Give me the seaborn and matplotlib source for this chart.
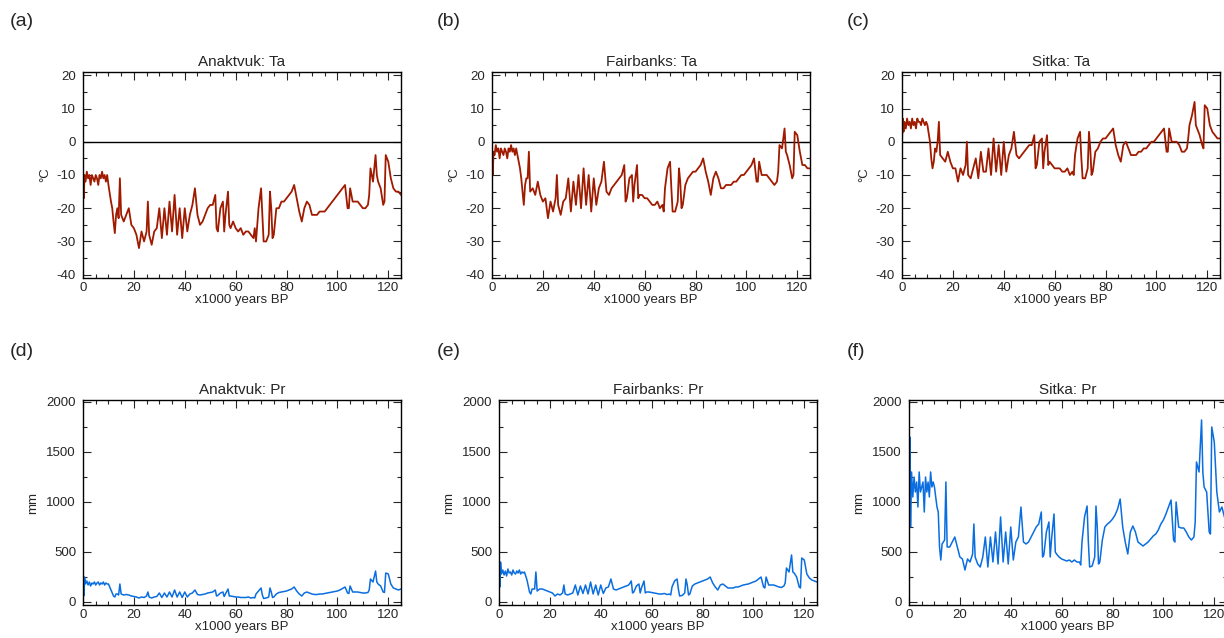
"""
Ta and Pr reconstructions for three Alaskan sites, 0-125 kyr BP.
Two rows of three panels drawn with seaborn line plots.
"""

import numpy as np
import pandas as pd
import matplotlib
matplotlib.use("Agg")
import matplotlib.pyplot as plt
from matplotlib.ticker import MultipleLocator
import seaborn as sns

# time axis, x1000 years BP (shared by every series)
years = [0, 0.3, 0.6, 1, 1.5, 2, 2.5, 3, 3.5, 4,
         4.5, 5, 5.5, 6, 6.5, 7, 7.5, 8, 8.5, 9,
         9.5, 10, 11, 11.5, 12, 12.5, 13, 13.5, 14, 14.5,
         15, 16, 17, 18, 19, 20, 21, 22, 23, 24,
         25, 25.5, 26, 27, 28, 29, 30, 31, 32, 33,
         34, 35, 36, 37, 38, 39, 40, 41, 42, 43,
         44, 45, 46, 47, 48, 49, 50, 51, 52, 52.5,
         53, 54, 55, 55.5, 56, 57, 57.5, 58, 59, 60,
         61, 62, 63, 64, 65, 66, 67, 67.5, 68, 69,
         70, 70.5, 71, 72, 73, 73.5, 74, 74.5, 75, 76,
         77, 78, 79, 80, 81, 82, 83, 84, 85, 86,
         87, 88, 89, 90, 91, 92, 93, 94, 95, 96,
         97, 98, 99, 100, 101, 102, 103, 104, 104.5, 105,
         106, 107, 108, 109, 110, 111, 112, 112.5, 113, 114,
         115, 115.5, 116, 117, 118, 118.5, 119, 120, 121, 122,
         123, 124, 125]

# air temperature, degC
ta_anaktvuk = [-8, -17, -10, -12, -9, -11, -10, -13, -10, -11,
               -12, -10, -11, -13, -10, -11, -9, -11, -10, -12,
               -10, -13, -18, -20, -24, -27.5, -22, -20, -23, -11,
               -22, -24, -22, -20, -25, -26, -28, -32, -27, -30,
               -27, -18, -28, -31, -27, -26, -20, -29, -20, -28,
               -18, -27, -16, -28, -20, -29, -20, -27, -22, -19,
               -14, -22, -25, -24, -22, -20, -19, -19, -16, -26,
               -27, -20, -18, -27, -22, -15, -25, -26, -24, -26,
               -27, -26, -28, -27, -27, -28, -29, -26, -30, -20,
               -14, -22, -30, -30, -28, -15, -20, -29, -28, -20,
               -20, -18, -18, -17, -16, -15, -13, -17, -21, -24,
               -20, -18, -19, -22, -22, -22, -21, -21, -21, -20,
               -19, -18, -17, -16, -15, -14, -13, -20, -20, -14,
               -18, -18, -18, -19, -20, -20, -19, -16, -8, -12,
               -4, -10, -12, -14, -19, -18, -4, -6, -11, -14,
               -15, -15, -16]

ta_fairbanks = [-1, -10, -3, -4, -1, -3, -2, -5, -2, -3,
                -4, -2, -3, -5, -2, -3, -1, -3, -2, -4,
                -2, -4, -8, -11, -15, -19, -13, -11, -11, -3,
                -15, -14, -16, -12, -16, -18, -17, -23, -18, -21,
                -17, -10, -19, -22, -18, -17, -11, -21, -12, -19,
                -10, -20, -8, -19, -10, -21, -11, -19, -14, -12,
                -6, -15, -16, -14, -13, -12, -11, -10, -7, -18,
                -17, -11, -10, -18, -13, -7, -17, -16, -16, -17,
                -17, -18, -19, -19, -18, -20, -19, -21, -14, -8,
                -6, -14, -21, -21, -18, -8, -12, -20, -19, -13,
                -11, -10, -9, -9, -8, -7, -5, -9, -12, -16,
                -11, -9, -11, -14, -14, -13, -13, -13, -12, -12,
                -11, -10, -10, -9, -8, -7, -5, -12, -12, -6,
                -10, -10, -10, -11, -12, -13, -12, -9, -1, -2,
                4, -3, -4, -7, -11, -10, 3, 2, -3, -7,
                -7, -8, -8]

ta_sitka = [0, 7, 3, 6, 4, 7, 5, 6, 4, 7,
            5, 6, 4, 7, 6, 6, 5, 7, 6, 5,
            6, 5, 0, -5, -8, -6, -2, -3, 0, 6,
            -4, -5, -6, -3, -6, -8, -8, -12, -8, -10,
            -7, 0, -10, -11, -8, -5, -11, -3, -9, -9,
            -2, -10, 1, -9, -1, -10, 0, -9, -4, -2,
            3, -4, -5, -4, -3, -2, -1, -1, 2, -8,
            -7, 0, 1, -8, -3, 2, -7, -6, -7, -8,
            -8, -8, -9, -9, -8, -10, -9, -10, -4, 1,
            3, -5, -11, -11, -8, 3, -2, -10, -9, -3,
            -2, 0, 1, 1, 2, 3, 4, -1, -4, -6,
            -1, 0, -2, -4, -4, -4, -3, -3, -2, -2,
            -1, 0, 0, 1, 2, 3, 4, -3, -3, 4,
            0, 0, 0, -1, -3, -3, -2, 1, 5, 8,
            12, 5, 4, 2, -1, -2, 11, 10, 5, 3,
            2, 1, 1]

# precipitation, mm
pr_anaktvuk = [350, 60, 250, 180, 210, 170, 200, 160, 190, 180,
               200, 170, 190, 200, 170, 190, 180, 200, 170, 190,
               180, 180, 120, 90, 60, 50, 80, 80, 70, 180,
               80, 70, 75, 70, 60, 55, 50, 40, 50, 45,
               60, 100, 50, 40, 50, 55, 90, 45, 90, 50,
               100, 50, 120, 50, 100, 45, 100, 50, 80, 90,
               120, 75, 70, 75, 80, 90, 95, 100, 120, 60,
               65, 90, 100, 55, 80, 130, 60, 60, 55, 50,
               50, 45, 45, 45, 50, 40, 45, 40, 80, 110,
               140, 70, 35, 40, 50, 140, 100, 45, 50, 80,
               95, 100, 105, 110, 120, 130, 150, 110, 80, 60,
               90, 100, 90, 80, 75, 75, 80, 80, 85, 90,
               95, 100, 105, 110, 120, 135, 150, 90, 85, 160,
               100, 100, 100, 95, 90, 90, 95, 120, 230, 200,
               310, 200, 180, 160, 100, 95, 290, 280, 180, 140,
               130, 120, 130]

pr_fairbanks = [450, 150, 400, 280, 320, 270, 310, 260, 330, 290,
                300, 270, 320, 290, 280, 310, 290, 320, 280, 300,
                290, 300, 220, 160, 100, 80, 130, 130, 130, 300,
                110, 130, 130, 120, 110, 100, 90, 60, 80, 70,
                90, 170, 80, 70, 80, 90, 170, 70, 160, 85,
                170, 80, 200, 80, 170, 70, 170, 85, 140, 150,
                230, 130, 120, 130, 140, 150, 160, 170, 210, 90,
                100, 160, 180, 90, 140, 210, 90, 100, 100, 95,
                90, 85, 80, 80, 85, 75, 80, 70, 150, 210,
                230, 130, 60, 65, 90, 230, 170, 70, 80, 160,
                180, 190, 200, 210, 220, 230, 250, 190, 150, 120,
                170, 180, 160, 140, 140, 140, 150, 150, 160, 170,
                175, 180, 190, 200, 210, 230, 250, 150, 140, 250,
                170, 170, 170, 160, 150, 145, 160, 190, 340, 300,
                470, 300, 290, 250, 150, 140, 440, 420, 280, 240,
                220, 210, 200]

pr_sitka = [600, 1650, 750, 1300, 1050, 1250, 1100, 1200, 950, 1300,
            1100, 1150, 1200, 900, 1250, 1100, 1200, 1050, 1300, 1150,
            1200, 1150, 950, 900, 550, 420, 580, 600, 620, 1200,
            550, 550, 600, 650, 550, 450, 430, 320, 430, 400,
            480, 780, 450, 380, 350, 450, 650, 350, 650, 400,
            700, 380, 850, 400, 700, 380, 750, 420, 600, 650,
            950, 600, 580, 600, 650, 700, 750, 780, 900, 450,
            470, 700, 800, 450, 620, 880, 500, 480, 450, 430,
            420, 410, 420, 400, 420, 400, 400, 370, 600, 850,
            960, 600, 350, 360, 450, 960, 750, 380, 400, 620,
            750, 780, 800, 830, 870, 930, 1030, 750, 600, 480,
            700, 760, 700, 600, 580, 560, 580, 600, 630, 660,
            680, 720, 780, 820, 880, 950, 1020, 620, 600, 1000,
            750, 740, 740, 700, 650, 620, 650, 800, 1400, 1300,
            1820, 1300, 1150, 1100, 700, 680, 1750, 1600, 1100, 900,
            950, 850, 900]

sites = ["Anaktvuk", "Fairbanks", "Sitka"]
panel_tags = ["(a)", "(b)", "(c)", "(d)", "(e)", "(f)"]

TA_COLOR = "#a01a00"
PR_COLOR = "#0a6ee0"

sns.set_style("ticks")
plt.rcParams["font.family"] = ["Liberation Sans", "DejaVu Sans"]
plt.rcParams["axes.unicode_minus"] = False

fig = plt.figure(figsize=(12.24, 6.38), dpi=100)

# axes boxes in figure fractions (left, bottom, width, height)
W = 318 / 1224
top_boxes = [(83 / 1224, 1 - 278 / 638, W, 206 / 638),
             (492 / 1224, 1 - 278 / 638, W, 206 / 638),
             (902 / 1224, 1 - 278 / 638, W, 206 / 638)]
bot_boxes = [(83 / 1224, 1 - 605 / 638, W, 205 / 638),
             (499 / 1224, 1 - 605 / 638, W, 205 / 638),
             (909 / 1224, 1 - 605 / 638, W, 205 / 638)]
tag_pos = [(10, 22), (437, 22), (847, 22), (10, 352), (437, 352), (847, 352)]

ta_series = [ta_anaktvuk, ta_fairbanks, ta_sitka]
pr_series = [pr_anaktvuk, pr_fairbanks, pr_sitka]


def style_axis(ax, ymaj, ymin):
    ax.set_xlim(0, 125)
    ax.xaxis.set_major_locator(MultipleLocator(20))
    ax.xaxis.set_minor_locator(MultipleLocator(5))
    ax.yaxis.set_major_locator(MultipleLocator(ymaj))
    ax.yaxis.set_minor_locator(MultipleLocator(ymin))
    ax.tick_params(which="both", direction="in", top=True, right=True,
                   width=0.8, labelsize=9.5)
    ax.tick_params(axis="y", which="major", pad=5)
    ax.tick_params(axis="x", which="major", pad=3)
    ax.tick_params(which="major", length=6)
    ax.tick_params(which="minor", length=3)
    for s in ax.spines.values():
        s.set_linewidth(1.0)
        s.set_color("black")
    ax.set_xlabel("x1000 years BP", fontsize=9.5, labelpad=0)


for i, site in enumerate(sites):
    ax = fig.add_axes(top_boxes[i])
    df = pd.DataFrame({"year": years, "value": ta_series[i]})
    ax.axhline(0, color="black", lw=1.0, zorder=1)
    sns.lineplot(data=df, x="year", y="value", ax=ax, color=TA_COLOR,
                 lw=1.3, estimator=None, sort=False, zorder=2)
    ax.set_ylim(-41, 21)
    style_axis(ax, 10, 5)
    ax.set_ylabel("°C", fontsize=9.5, labelpad=4)
    ax.set_title(f"{site}: Ta", fontsize=11, pad=4)

    ax = fig.add_axes(bot_boxes[i])
    df = pd.DataFrame({"year": years, "value": pr_series[i]})
    sns.lineplot(data=df, x="year", y="value", ax=ax, color=PR_COLOR,
                 lw=1.1, estimator=None, sort=False)
    ax.set_ylim(-30, 2020)
    style_axis(ax, 500, 250)
    ax.set_ylabel("mm", fontsize=9.5, labelpad=5)
    ax.set_title(f"{site}: Pr", fontsize=11, pad=4)

for tag, (px, py) in zip(panel_tags, tag_pos):
    fig.text(px / 1224, 1 - py / 638, tag, fontsize=14, ha="left", va="center")

fig.savefig("out.png", dpi=100)
